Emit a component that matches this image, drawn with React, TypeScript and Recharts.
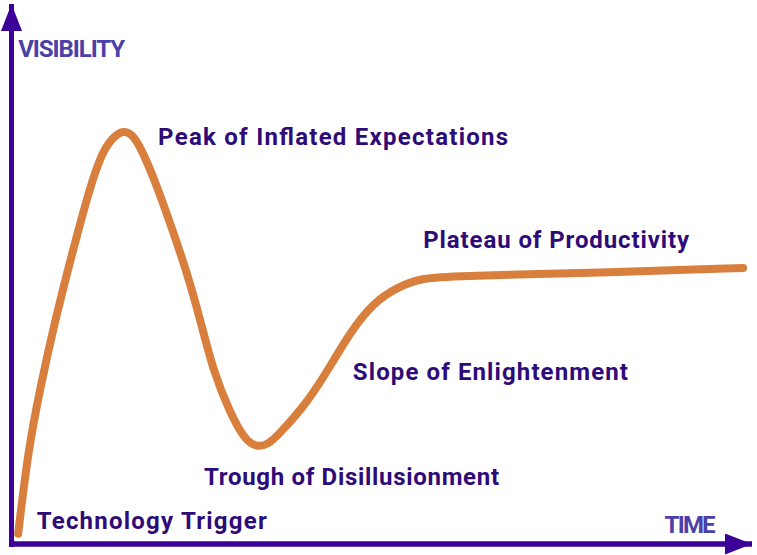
import { LineChart, Line, XAxis, YAxis, ReferenceDot } from "recharts";

// hype cycle curve (time 0-100, visibility 0-100)
const time = [0.9, 2.2, 3.9, 5.9, 8.2, 10.6, 12.2, 13.6, 15.1, 16.5, 17.8, 19.7, 21.6, 23.6, 25.5, 27.2, 29.5, 31.5, 33.0, 34.6, 36.3, 39.9, 43.0, 45.7, 48.8, 52.1, 55.6, 59.6, 77.7, 98.8];
const visibility = [1.9, 16.9, 29.1, 41.5, 53.9, 66.1, 72.4, 75.2, 76.7, 75.7, 72.4, 66.1, 58.7, 50.7, 41.5, 32.2, 24.3, 19.3, 18.0, 18.3, 20.6, 26.1, 32.8, 39.1, 44.6, 47.6, 49.3, 49.6, 50.2, 51.1];

// phase labels: text, anchor (left edge / baseline) in data units, width in px
const phaseNames = [
  "Peak of Inflated Expectations",
  "Plateau of Productivity",
  "Slope of Enlightenment",
  "Trough of Disillusionment",
  "Technology Trigger",
];
const phaseTime = [19.8, 55.6, 46.1, 26.0, 3.4];
const phaseVis = [73.9, 54.8, 30.4, 10.9, 2.8];
const phaseWidth = [350, 266, 275, 295, 230];

const axisTitles = ["VISIBILITY", "TIME"];
const axisTitleTime = [0.9, 88.2];
const axisTitleVis = [90.2, 2.0];
const axisTitleWidth = [107, 51];

const AXIS = "#3c0099";
const LABEL = "#2e0b78";
const TITLE = "#4b40a8";
const CURVE = "#d97f3e";
const FONT = "Roboto, 'DejaVu Sans', sans-serif";

const data = time.map((t, i) => ({ t, v: visibility[i] }));

const textShape = (text: string, width: number, color: string) => (props: any) => (
  <text
    x={props.cx}
    y={props.cy}
    fill={color}
    fontFamily={FONT}
    fontWeight={700}
    fontSize={24}
    textLength={width}
  >
    {text}
  </text>
);

export default function App() {
  return (
    <div style={{ position: "absolute", left: 0, top: 0, background: "#fff" }}>
      <LineChart
        width={757}
        height={555}
        data={data}
        margin={{ top: 4, right: 5, bottom: 10, left: 10.5 }}
      >
        <defs>
          <marker
            id="arrowHead"
            viewBox="0 0 27 21"
            refX={27}
            refY={10.5}
            markerWidth={27}
            markerHeight={21}
            markerUnits="userSpaceOnUse"
            orient="auto-start-reverse"
          >
            <path d="M0,0 L27,10.5 L0,21 Z" fill={AXIS} />
          </marker>
          <marker
            id="corner"
            viewBox="0 0 6 6"
            refX={3}
            refY={3}
            markerWidth={6}
            markerHeight={6}
            markerUnits="userSpaceOnUse"
          >
            <rect x={0} y={0} width={6} height={6} fill={AXIS} />
          </marker>
        </defs>
        <XAxis
          dataKey="t"
          type="number"
          domain={[0, 100]}
          height={1}
          tick={false}
          tickLine={false}
          axisLine={{ stroke: AXIS, strokeWidth: 5.5, markerEnd: "url(#arrowHead)", markerStart: "url(#corner)" }}
        />
        <YAxis
          type="number"
          domain={[0, 100]}
          width={1}
          tick={false}
          tickLine={false}
          axisLine={{ stroke: AXIS, strokeWidth: 5, markerStart: "url(#arrowHead)" }}
        />
        <Line
          type="basis"
          dataKey="v"
          stroke={CURVE}
          strokeWidth={8}
          strokeLinecap="round"
          dot={false}
          activeDot={false}
          isAnimationActive={false}
        />
        {phaseNames.map((name, i) => (
          <ReferenceDot
            key={name}
            x={phaseTime[i]}
            y={phaseVis[i]}
            ifOverflow="visible"
            shape={textShape(name, phaseWidth[i], LABEL)}
          />
        ))}
        {axisTitles.map((name, i) => (
          <ReferenceDot
            key={name}
            x={axisTitleTime[i]}
            y={axisTitleVis[i]}
            ifOverflow="visible"
            shape={textShape(name, axisTitleWidth[i], TITLE)}
          />
        ))}
      </LineChart>
    </div>
  );
}
